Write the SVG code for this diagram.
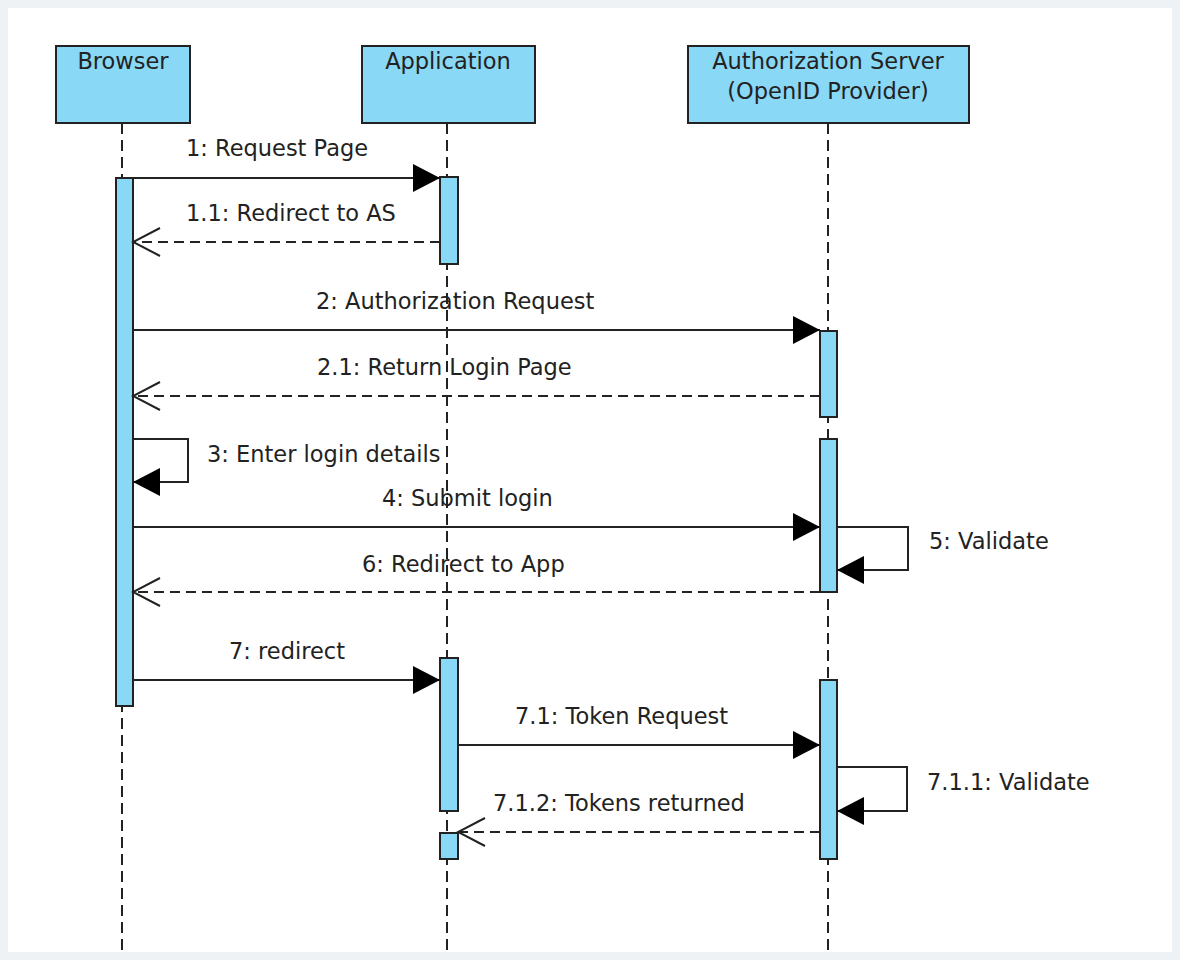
<svg xmlns="http://www.w3.org/2000/svg" width="1180" height="960" viewBox="0 0 1180 960">
<defs>
<style>
.bg{fill:#eef2f5}
.panel{fill:#ffffff}
.box{fill:#89d8f6;stroke:#222;stroke-width:2}
.act{fill:#89d8f6;stroke:#222;stroke-width:2}
.life{stroke:#222;stroke-width:2;stroke-dasharray:11 6;fill:none}
.msg{stroke:#222;stroke-width:2;fill:none}
.ret{stroke:#222;stroke-width:2;fill:none;stroke-dasharray:10 6}
.t{font-family:"DejaVu Sans","Noto Sans",sans-serif;font-size:22.5px;fill:#222}
.c{text-anchor:middle}
</style>
<marker id="fill" viewBox="0 0 27 28" refX="27" refY="14" markerWidth="27" markerHeight="28" markerUnits="userSpaceOnUse" orient="auto">
<path d="M0,0 L27,14 L0,28 Z" fill="#000"/>
</marker>
<marker id="open" viewBox="0 0 30 32" refX="28" refY="16" markerWidth="30" markerHeight="32" markerUnits="userSpaceOnUse" orient="auto">
<path d="M1,2 L28,16 L1,30" fill="none" stroke="#222" stroke-width="2"/>
</marker>
</defs>
<rect class="bg" x="0" y="0" width="1180" height="960"/>
<rect class="panel" x="8" y="8" width="1164" height="944"/>

<g id="lifelines">
<line class="life" x1="122" y1="123" x2="122" y2="952"/>
<line class="life" x1="447" y1="123" x2="447" y2="952"/>
<line class="life" x1="828" y1="123" x2="828" y2="952"/>
</g>

<g id="browser">
<rect class="box" x="56" y="46" width="134" height="77"/>
<text class="t c" x="123" y="69">Browser</text>
<rect class="act" x="116" y="178" width="17" height="528"/>
</g>

<g id="application">
<rect class="box" x="362" y="46" width="173" height="77"/>
<text class="t c" x="448" y="69">Application</text>
<rect class="act" x="440" y="177" width="18" height="87"/>
<rect class="act" x="440" y="658" width="18" height="153"/>
<rect class="act" x="440" y="833" width="18" height="26"/>
</g>

<g id="authserver">
<rect class="box" x="688" y="46" width="281" height="77"/>
<text class="t c" x="828" y="69">Authorization Server</text>
<text class="t c" x="828" y="99">(OpenID Provider)</text>
<rect class="act" x="820" y="331" width="17" height="86"/>
<rect class="act" x="820" y="439" width="17" height="153"/>
<rect class="act" x="820" y="680" width="17" height="179"/>
</g>

<g id="connectors">
<line class="msg" x1="133" y1="178" x2="440" y2="178" marker-end="url(#fill)"/>
<line class="ret" x1="440" y1="242" x2="133" y2="242" marker-end="url(#open)"/>
<line class="msg" x1="133" y1="330" x2="820" y2="330" marker-end="url(#fill)"/>
<line class="ret" x1="820" y1="396" x2="133" y2="396" marker-end="url(#open)"/>
<path class="msg" d="M133,439 H188 V482 H133" marker-end="url(#fill)"/>
<line class="msg" x1="133" y1="527" x2="820" y2="527" marker-end="url(#fill)"/>
<path class="msg" d="M837,527 H908 V570 H837" marker-end="url(#fill)"/>
<line class="ret" x1="820" y1="592" x2="133" y2="592" marker-end="url(#open)"/>
<line class="msg" x1="133" y1="680" x2="440" y2="680" marker-end="url(#fill)"/>
<line class="msg" x1="458" y1="745" x2="820" y2="745" marker-end="url(#fill)"/>
<path class="msg" d="M837,767 H907 V811 H837" marker-end="url(#fill)"/>
<line class="ret" x1="820" y1="832" x2="458" y2="832" marker-end="url(#open)"/>
</g>

<g id="labels">
<text class="t" x="186" y="156">1: Request Page</text>
<text class="t" x="186" y="221">1.1: Redirect to AS</text>
<text class="t" x="316" y="309">2: Authorization Request</text>
<text class="t" x="317" y="375">2.1: Return Login Page</text>
<text class="t" x="207" y="462">3: Enter login details</text>
<text class="t" x="382" y="506">4: Submit login</text>
<text class="t" x="929" y="549">5: Validate</text>
<text class="t" x="362" y="572">6: Redirect to App</text>
<text class="t" x="229" y="659">7: redirect</text>
<text class="t" x="515" y="724">7.1: Token Request</text>
<text class="t" x="927" y="790">7.1.1: Validate</text>
<text class="t" x="493" y="811">7.1.2: Tokens returned</text>
</g>
</svg>
